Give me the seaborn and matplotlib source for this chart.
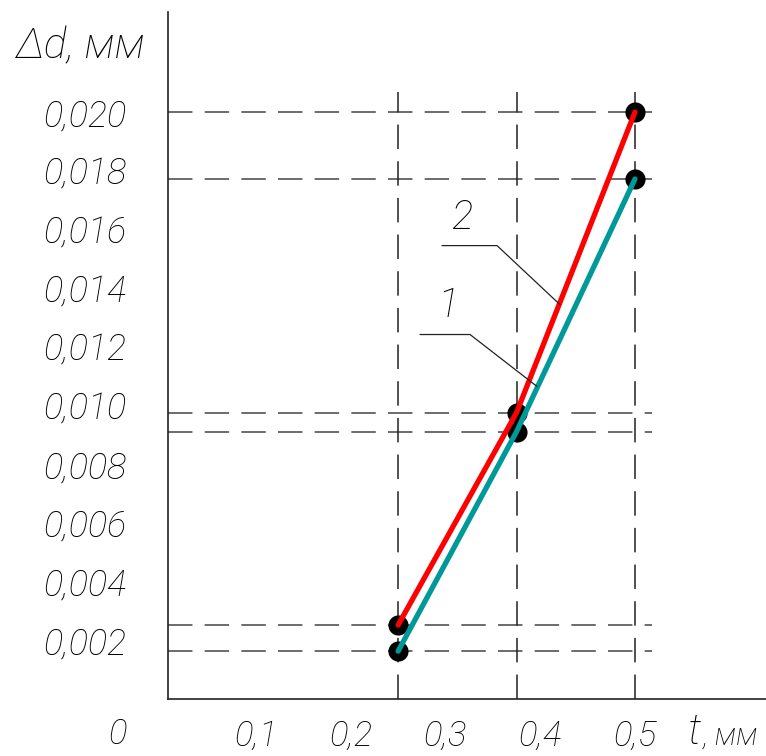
import matplotlib
matplotlib.use("Agg")
import matplotlib.pyplot as plt
import seaborn as sns
import pandas as pd
import numpy as np

# ---- data ----
t_values = [0.25, 0.375, 0.5]
series1_dd = [0.00163, 0.00911, 0.01772]   # curve 1 (teal)
series2_dd = [0.00252, 0.00976, 0.02000]   # curve 2 (red)
series_names = ["1", "2"]
x_ticks = [0.1, 0.2, 0.3, 0.4, 0.5]
x_tick_labels = ["0,1", "0,2", "0,3", "0,4", "0,5"]
y_ticks = [0.002, 0.004, 0.006, 0.008, 0.010, 0.012, 0.014, 0.016, 0.018, 0.020]
y_tick_labels = ["0,002", "0,004", "0,006", "0,008", "0,010",
                 "0,012", "0,014", "0,016", "0,018", "0,020"]

df = pd.DataFrame({
    "t": t_values * 2,
    "dd": series1_dd + series2_dd,
    "curve": [series_names[0]] * 3 + [series_names[1]] * 3,
})

sns.set_theme(style="white")
FONT = ["Roboto", "DejaVu Sans"]
plt.rcParams["font.family"] = FONT
plt.rcParams["text.color"] = "black"
plt.rcParams["xtick.labelcolor"] = "black"
plt.rcParams["ytick.labelcolor"] = "black"
TXT = dict(style="italic", weight="light", color="black")

fig = plt.figure(figsize=(7.66, 7.56), dpi=100)
ax = fig.add_axes([168 / 766, 57 / 756, 1 - 168 / 766, (699 - 12) / 756])

xmin, xmax = 0.0071, 0.6383
ymin, ymax = 0.0, 0.02341
ax.set_xlim(xmin, xmax)
ax.set_ylim(ymin, ymax)

dash_color = "#444444"
dash = (0, (16, 8))
# horizontal reference lines at measured values
for v in series1_dd + series2_dd:
    ax.plot([xmin, 0.518], [v, v], color=dash_color, lw=1.1, linestyle=dash, zorder=1)
# vertical reference lines
for tv in t_values:
    ax.plot([tv, tv], [0, 0.02068], color="#222222", lw=1.1, linestyle=dash, zorder=1)

# markers
sns.scatterplot(data=df, x="t", y="dd", color="black", s=210, edgecolor="black",
                linewidth=0, zorder=3, ax=ax, legend=False)
# lines
sns.lineplot(data=df, x="t", y="dd", hue="curve",
             palette={"1": "#00999a", "2": "#ff0000"},
             linewidth=3.8, zorder=4, ax=ax, legend=False, sort=False)
for line in ax.get_lines():
    if line.get_color() == "#ff0000":
        line.set_zorder(5)

# leader lines + labels
lead_kw = dict(color="#222222", lw=0.9, zorder=6)
ax.plot([0.2963, 0.3544, 0.4208], [0.01545, 0.01545, 0.01344], **lead_kw)
ax.plot([0.2731, 0.3259, 0.3966], [0.01242, 0.01242, 0.01065], **lead_kw)
ax.text(0.3185, 0.0164, "2", fontsize=29, ha="center", va="center", **TXT)
ax.text(0.3026, 0.01341, "1", fontsize=29, ha="center", va="center", **TXT)

# spines
for s in ["top", "right"]:
    ax.spines[s].set_visible(False)
for s in ["left", "bottom"]:
    ax.spines[s].set_color("#222222")
    ax.spines[s].set_linewidth(1.2)

ax.set_xticks(x_ticks)
ax.set_xticklabels(x_tick_labels, fontsize=25, **TXT)
ax.set_yticks(y_ticks)
ax.set_yticklabels(y_tick_labels, fontsize=26, **TXT)
ax.tick_params(axis="x", direction="inout", length=29, width=1.1, color="#333333", pad=0)
ax.tick_params(axis="y", direction="inout", length=30, width=1.1, color="#333333", pad=15)
ax.set_xlabel("")
ax.set_ylabel("")

# axis titles and origin label
fig.text(15 / 766, 1 - 47 / 756, "Δd, мм", fontsize=31, ha="left", va="center", **TXT)
fig.text(688 / 766, 1 - 733 / 756, "t", fontsize=31, ha="left", va="center", **TXT)
fig.text(703 / 766, 1 - 736 / 756, ", мм", fontsize=22, ha="left", va="center", **TXT)
fig.text(118 / 766, 1 - 734 / 756, "0", fontsize=25, ha="center", va="center", **TXT)

fig.savefig("out.png", dpi=100, facecolor="white")
